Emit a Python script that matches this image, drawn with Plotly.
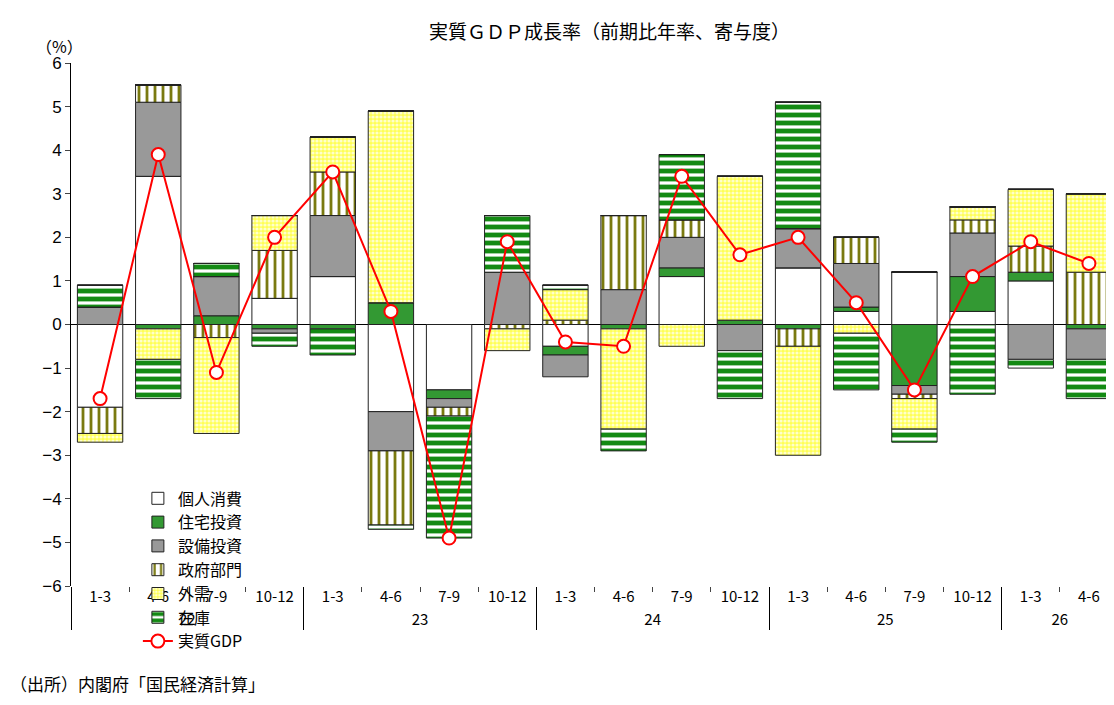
import plotly.graph_objects as go

years = ["22"]*4 + ["23"]*4 + ["24"]*4 + ["25"]*4 + ["26"]*2
quarters = ["1-3","4-6","7-9","10-12"]*4 + ["1-3","4-6"]

# stacked contributions; positives and negatives split per series
kojin_p  = [0,3.4,0,0.6, 1.1,0,0,0, 0,0,1.1,0, 1.3,0.3,1.2,0.3, 1.0,0]
kojin_n  = [-1.9,0,0,0, 0,-2.0,-1.5,0, -0.5,0,0,0, 0,0,0,0, 0,0]
jutaku_p = [0,0,0.2,0, 0,0.5,0,0, 0,0,0.2,0.1, 0,0.1,0,0.8, 0.2,0]
jutaku_n = [0,-0.1,0,-0.1, -0.1,0,-0.2,0, -0.2,-0.1,0,0, -0.1,0,-1.4,0, 0,-0.1]
setsubi_p= [0.4,1.7,0.9,0, 1.4,0,0,1.2, 0,0.8,0.7,0, 0.9,1.0,0,1.0, 0,0]
setsubi_n= [0,0,0,-0.1, 0,-0.9,-0.2,0, -0.5,0,0,-0.6, 0,0,-0.2,0, -0.8,-0.7]
seifu_p  = [0,0.4,0,1.1, 1.0,0,0,0, 0.1,1.7,0.4,0, 0,0.6,0,0.3, 0.6,1.2]
seifu_n  = [-0.6,0,-0.3,0, 0,-1.7,-0.2,-0.1, 0,0,0,0, -0.4,0,-0.1,0, 0,0]
gaiju_p  = [0,0,0,0.8, 0.8,4.4,0,0, 0.7,0,0,3.3, 0,0,0,0.3, 1.3,1.8]
gaiju_n  = [-0.2,-0.7,-2.2,0, 0,0,0,-0.5, 0,-2.3,-0.5,0, -2.5,-0.2,-0.7,0, 0,0]
zaiko_p  = [0.5,0,0.3,0, 0,0,0,1.3, 0.1,0,1.5,0, 2.9,0,0,0, 0,0]
zaiko_n  = [0,-0.9,0,-0.3, -0.6,-0.1,-2.8,0, 0,-0.5,0,-1.1, 0,-1.3,-0.3,-1.6, -0.2,-0.9]
gdp      = [-1.7,3.9,-1.1,2.0, 3.5,0.3,-4.9,1.9, -0.4,-0.5,3.4,1.6, 2.0,0.5,-1.5,1.1, 1.9,1.4]

x = [years, quarters]
LINE = dict(color="#222222", width=1)
series = [
    ("個人消費", kojin_p, kojin_n, dict(color="white", line=LINE)),
    ("住宅投資", jutaku_p, jutaku_n, dict(color="#339933", line=LINE)),
    ("設備投資", setsubi_p, setsubi_n, dict(color="#999999", line=LINE)),
    ("政府部門", seifu_p, seifu_n, dict(color="white", line=LINE,
        pattern=dict(shape="|", fgcolor="#7a7a10", bgcolor="white", size=8, solidity=0.35, fgopacity=1))),
    ("外需", gaiju_p, gaiju_n, dict(color="#ffff66", line=LINE,
        pattern=dict(shape=".", fgcolor="#ffffcc", bgcolor="#ffff55", size=4, solidity=0.5, fgopacity=1))),
    ("在庫", zaiko_p, zaiko_n, dict(color="white", line=LINE,
        pattern=dict(shape="-", fgcolor="#138a13", bgcolor="white", size=8, solidity=0.6, fgopacity=1))),
]

fig = go.Figure()
for name, p, n, mk in series:
    fig.add_trace(go.Bar(x=x, y=p, name=name, marker=mk, width=0.78))
for name, p, n, mk in series:
    fig.add_trace(go.Bar(x=x, y=n, name=name, marker=mk, showlegend=False, width=0.78))

fig.add_trace(go.Scatter(x=x, y=gdp, name="実質GDP", mode="lines+markers",
    line=dict(color="#ff0000", width=2),
    marker=dict(size=13, color="white", line=dict(color="#ff0000", width=2))))

fig.update_layout(
    barmode="relative",
    width=1114, height=705,
    paper_bgcolor="white", plot_bgcolor="white",
    font=dict(family="Noto Sans CJK JP", size=15, color="black"),
    margin=dict(l=63, r=4, t=55, b=127),
    title=dict(text="実質ＧＤＰ成長率（前期比年率、寄与度）", x=0.54, y=0.975, xanchor="center",
               font=dict(size=19)),
    legend=dict(orientation="h", x=0.44, y=0.2, xanchor="left", yanchor="top",
                entrywidth=200, tracegroupgap=0, bgcolor="rgba(0,0,0,0)", font=dict(size=16)),
    showlegend=True,
)
fig.update_yaxes(range=[-6, 6], dtick=1, showline=True, linecolor="black", ticks="outside",
                 ticklen=5, showgrid=False, zeroline=True, zerolinecolor="black", zerolinewidth=1,
                 tickfont=dict(size=17, family="Liberation Sans"))
fig.update_xaxes(type="multicategory", range=[-0.5, 17.5], showline=False, ticks="outside",
                 showgrid=False, showdividers=True, dividercolor="black", tickfont=dict(size=15))
fig.add_annotation(text="（%）", xref="paper", yref="paper", x=-0.035, y=1.06,
                   showarrow=False, font=dict(size=16))
fig.add_annotation(text="（出所）内閣府「国民経済計算」", xref="paper", yref="paper", x=-0.06, y=-0.215,
                   xanchor="left", showarrow=False, font=dict(size=17))
fig.write_html("out.html")
